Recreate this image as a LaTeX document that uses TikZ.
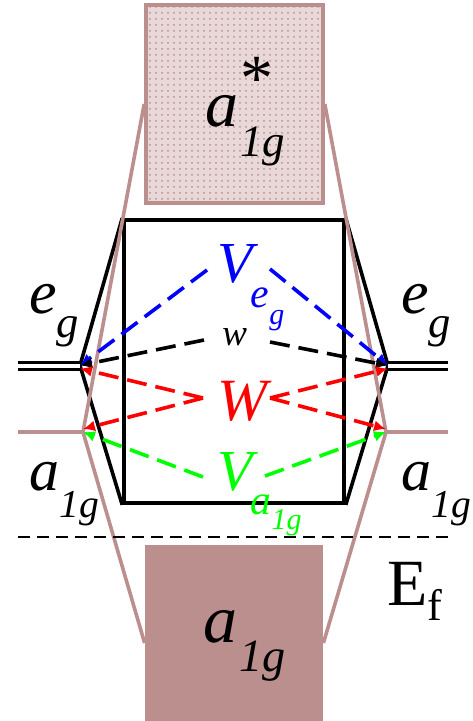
\documentclass[tikz,border=0pt]{standalone}
\usepackage{fontspec}
\setmainfont{Liberation Serif}[ItalicFont={Liberation Serif Italic}]
\usepackage{graphicx}
\usetikzlibrary{arrows.meta,patterns}
\definecolor{rose}{RGB}{188,143,143}
\definecolor{bleu}{RGB}{0,0,255}
\definecolor{rouge}{RGB}{255,0,0}
\definecolor{vert}{RGB}{0,255,0}
\newcommand{\lvsub}[4][0.43em]{#3\raisebox{-#1}{\scalebox{#2}{#4}}}

\begin{document}
\begin{tikzpicture}[x=0.5pt, y=-0.5pt,
  lv/.style={line width=1.8pt, line join=miter},
  rs/.style={draw=rose, line width=1.8pt},
  lab/.style={anchor=base west, inner sep=0pt, font=\itshape\fontsize{#1}{#1}\selectfont},
  ar/.style={-{Latex[length=6pt,width=5.5pt]}, line width=1.8pt, dash pattern=on 10pt off 4.5pt}]
\useasboundingbox (0,0) rectangle (472,721);
\node[rs, preaction={fill=rose!35}, pattern=dots, pattern color=rose,
      minimum width=88.5pt, minimum height=99pt, inner sep=0pt] (top) at (234.5,104) {};
\node[fill=rose, minimum width=89pt, minimum height=88pt, inner sep=0pt] (bot) at (234,633) {};
\node[draw, lv, minimum width=110pt, minimum height=141.5pt, inner sep=0pt] (core) at (234,361.5) {};
\coordinate (egL) at (80,365.5);
\coordinate (egR) at (388,365.5);
\coordinate (aL) at (83,432);
\coordinate (aR) at (386,432);
\coordinate (egL0) at (18,365.5);
\coordinate (egR0) at (448,365.5);
\coordinate (aL0) at (18,432);
\coordinate (aR0) at (448,432);
\coordinate (ef0) at (18,537);
\coordinate (ef1) at (448,537);
\coordinate (bL) at (207,270);
\coordinate (bR) at (270,269);
\coordinate (kL) at (204,340);
\coordinate (kR) at (270,342);
\coordinate (rL) at (203,398);
\coordinate (rR) at (270,398);
\coordinate (gL) at (203,477);
\coordinate (gR) at (265,476);

\draw[lv] (core.north west) -- (egL) -- (core.south west);
\draw[lv] (core.north east) -- (egR) -- (core.south east);
\draw[lv, line width=1.5pt, double, double distance=2pt] (egL0) -- (egL);
\draw[lv, line width=1.5pt, double, double distance=2pt] (egR) -- (egR0);
\draw[rs] (top.west) -- (aL) -- ([yshift=-5pt]bot.west);
\draw[rs] (top.east) -- (aR) -- ([yshift=-5pt]bot.east);
\draw[rs] (aL0) -- (aL);
\draw[rs] (aR) -- (aR0);
\draw[line width=1.3pt, dash pattern=on 6pt off 3.5pt] (ef0) -- (ef1);

\draw[ar, bleu] (bL) -- (egL);
\draw[ar, bleu] (bR) -- (egR);
\draw[ar] (kL) -- (egL);
\draw[ar] (kR) -- (egR);
\draw[ar, rouge] (rL) -- ([yshift=-1.5pt]egL);
\draw[ar, rouge] (rL) -- ([yshift=1.5pt]aL);
\draw[ar, rouge] (rR) -- ([yshift=-1.5pt]egR);
\draw[ar, rouge] (rR) -- ([yshift=1.5pt]aR);
\draw[ar, vert] (gL) -- (aL);
\draw[ar, vert] (gR) -- (aR);

\node[lab=31pt] (egl) at (29,313) {\lvsub[0.4em]{0.72}{e}{g}};
\node[lab=31pt] (egr) at (401,313) {\lvsub[0.4em]{0.72}{e}{g}};
\node[lab=30pt] (al) at (29,490) {\lvsub[0.45em]{0.66}{a}{1g}};
\node[lab=30pt] (ar) at (401,490) {\lvsub[0.45em]{0.66}{a}{1g}};
\node[lab=33pt] (astar) at (205,127) {a\kern1pt\rlap{\raisebox{0.4em}{\upshape *}}\raisebox{-0.45em}{\scalebox{0.68}{1g}}};
\node[lab=34pt] (abot) at (203,642) {\lvsub{0.68}{a\kern1pt}{1g}};
\node[lab=29pt, text=bleu] (veg) at (217,283) {V\kern-1pt\raisebox{-0.43em}{\scalebox{0.72}{\lvsub[0.4em]{0.72}{e}{g}}}};
\node[lab=18.5pt] (w) at (222,345) {w};
\node[lab=30pt, text=rouge] (W) at (217,420) {W};
\node[lab=29pt, text=vert] (va) at (217,490) {V\kern-1pt\raisebox{-0.43em}{\scalebox{0.72}{\lvsub[0.36em]{0.72}{a}{1g}}}};
\node[lab=33pt, font=\upshape\fontsize{33pt}{33pt}\selectfont] (ef) at (387,605) {E\raisebox{-0.24em}{\scalebox{0.67}{f}}};
\end{tikzpicture}
\end{document}
